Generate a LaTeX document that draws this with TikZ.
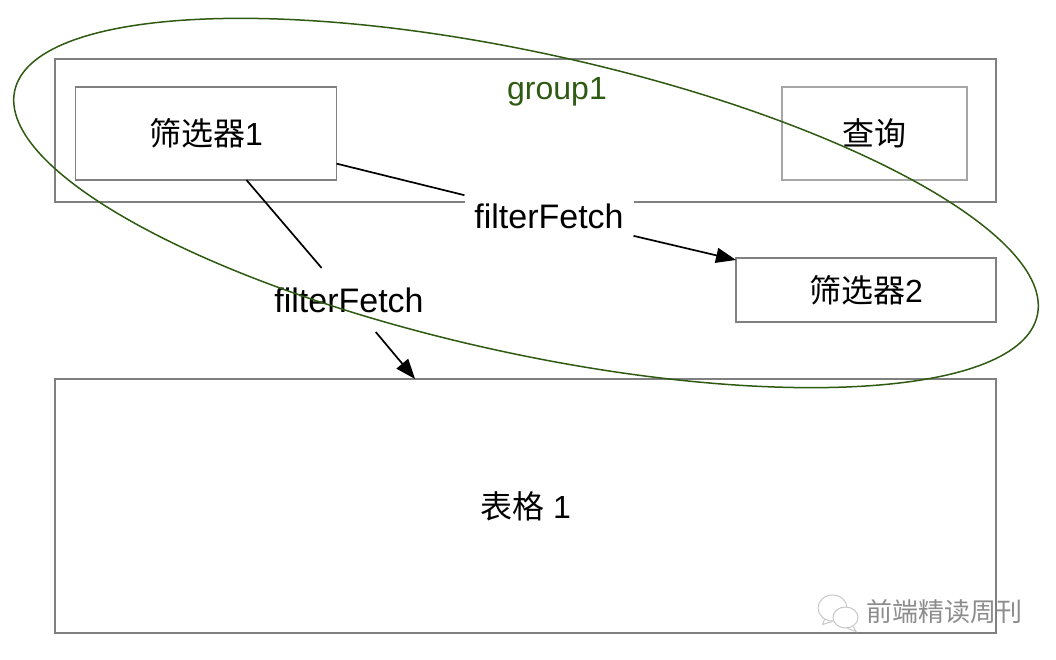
\documentclass[tikz,border=0pt]{standalone}
\usepackage{fontspec}
\setmainfont{Liberation Sans}
\newfontfamily\cjk{Noto Sans CJK SC}
\usetikzlibrary{arrows.meta,shapes.geometric}
\definecolor{boxgray}{HTML}{808080}
\definecolor{lightbox}{HTML}{A6A6A6}
\definecolor{grp}{HTML}{2F5A12}
\definecolor{wm}{HTML}{8C8C8C}
\tikzset{
  boxn/.style={draw=boxgray,line width=1.6pt,inner sep=0pt,outer sep=0pt,font=\fontsize{32}{36}\selectfont},
  lab/.style={inner sep=0pt,outer sep=0pt,font=\fontsize{34}{38}\selectfont,text=black},
  conn/.style={draw=black,line width=1.7pt},
  arr/.style={conn,-{Triangle[length=20pt,width=15pt]}},
  bub/.style={draw=black!22,line width=1pt,fill=white},
  tailn/.style={draw=black!22,line width=1pt}
}
\begin{document}
\begin{tikzpicture}[x=1pt,y=-1pt]
\useasboundingbox (0,0) rectangle (1056,660);
\node[boxn,minimum width=941pt,minimum height=143pt] (group) at (525.5,130.5) {};
\node[inner sep=0pt,text=grp,font=\fontsize{32}{38}\selectfont] (gt) at (557,92) {group1};
\node[boxn,minimum width=261pt,minimum height=93pt] (f1) at (206,133.5) {\raisebox{-1pt}{{\cjk 筛选器}1}};
\node[boxn,draw=lightbox,minimum width=185pt,minimum height=93pt] (q) at (874.5,133.5) {\raisebox{-1pt}{\cjk 查询}};
\node[boxn,minimum width=260pt,minimum height=64pt] (f2) at (866,290) {\raisebox{-1pt}{{\cjk 筛选器}2}};
\node[boxn,minimum width=941pt,minimum height=254pt] (t) at (525.5,506) {{\cjk 表格} 1};
\node[lab,fill=white,minimum width=169pt,minimum height=44pt] (l1) at (549,216) {filterFetch};
\node[lab,minimum width=169pt,minimum height=64pt] (l2) at (349,300) {filterFetch};
\draw[conn] (f1.-13.4) -- (l1);
\draw[arr] (l1) -- (f2.167);
\draw[conn] (f1.-49.6) -- (l2);
\draw[arr] (l2) -- (t.131.2);
\node[draw=grp,line width=1.5pt,ellipse,inner sep=0pt,minimum width=1047pt,minimum height=300pt,rotate=-12.4] (oval) at (526,203) {};
% watermark
\node[bub,ellipse,minimum width=29pt,minimum height=26pt,inner sep=0pt] (b1) at (832.5,608) {};
\draw[tailn] (b1.-125) -- ++(-2,5) -- (b1.-90);
\node[bub,ellipse,minimum width=25pt,minimum height=21pt,inner sep=0pt] (b2) at (845.5,617.5) {};
\draw[tailn] (b2.-50) -- ++(3,5) -- (b2.-80);
\node[inner sep=0pt,text=wm,font=\cjk\fontsize{26}{30}\selectfont] (wt) at (944,612) {前端精读周刊};
\end{tikzpicture}
\end{document}
